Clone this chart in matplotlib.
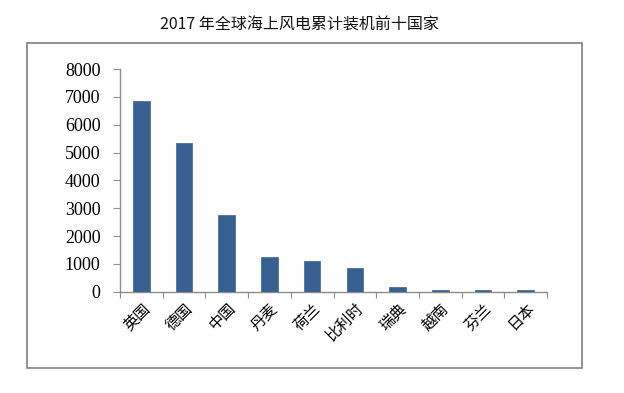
import matplotlib
matplotlib.use("Agg")
import matplotlib.pyplot as plt
from matplotlib.patches import Rectangle

plt.rcParams['font.family'] = ['Noto Sans CJK SC', 'DejaVu Sans']
plt.rcParams['font.serif'] = ['Liberation Serif', 'Times New Roman', 'DejaVu Serif']

title = "2017 年全球海上风电累计装机前十国家"
countries = ["英国", "德国", "中国", "丹麦", "荷兰", "比利时", "瑞典", "越南", "芬兰", "日本"]
capacity = [6850, 5340, 2760, 1250, 1110, 860, 160, 70, 70, 60]
yticks = [0, 1000, 2000, 3000, 4000, 5000, 6000, 7000, 8000]

W, H = 624, 393
fig = plt.figure(figsize=(W / 100, H / 100), dpi=100)

# outer frame
fig.patches.append(Rectangle((27.3 / W, 1 - 368.3 / H), (581.7 - 27.3) / W, (368.3 - 43.3) / H,
                             transform=fig.transFigure, fill=False, edgecolor='#7f7f7f', linewidth=1.2))

fig.text(299 / W, 1 - 25 / H, title, ha='center', va='center', fontsize=11.5, color='#111111')

ax = fig.add_axes([120 / W, 1 - 291.7 / H, (547 - 120) / W, (291.7 - 69) / H])
x = list(range(len(countries)))
ax.bar(x, capacity, width=0.39, color='#35608f', edgecolor='#4a73a0', linewidth=0.6, zorder=3)
ax.set_xlim(-0.5, len(countries) - 0.5)
ax.set_ylim(0, 8000)

ax.set_xticks([i - 0.5 for i in range(len(countries) + 1)])
ax.set_xticklabels([])
ax.set_xticks(x, minor=True)
ax.set_xticklabels(countries, minor=True, rotation=45, ha='right', va='top',
                   rotation_mode='anchor', fontsize=11)
ax.tick_params(axis='x', which='minor', length=0, pad=6)
ax.tick_params(axis='x', which='major', length=4, color='#8c8c8c', direction='out')

ax.set_yticks(yticks)
ax.set_yticklabels([str(v) for v in yticks])
ax.tick_params(axis='y', length=5, color='#8c8c8c', pad=9,
               labelfontfamily='serif', labelsize=13, labelcolor='#000000')

for s in ['top', 'right']:
    ax.spines[s].set_visible(False)
for s in ['left', 'bottom']:
    ax.spines[s].set_color('#8c8c8c')
    ax.spines[s].set_linewidth(1.0)

fig.savefig('out.png', dpi=100)
